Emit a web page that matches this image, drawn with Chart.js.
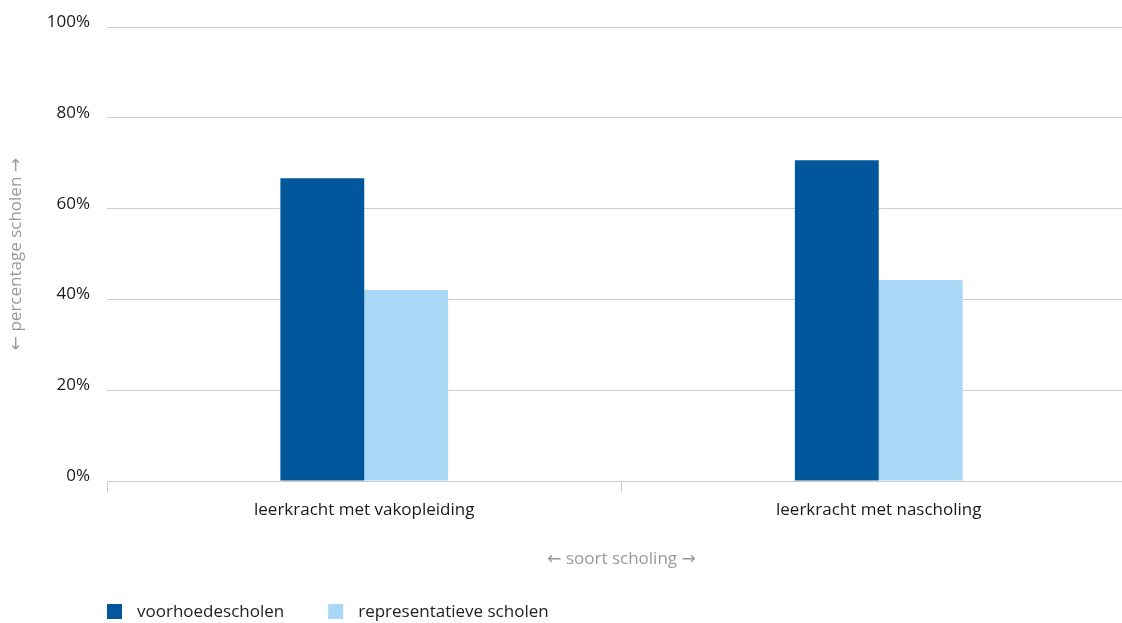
<!DOCTYPE html>
<html>
<head>
<meta charset="utf-8">
<script src="https://cdn.jsdelivr.net/npm/chart.js@4.4.1/dist/chart.umd.min.js"></script>
<style>
  html, body { margin: 0; padding: 0; background: #fff; overflow: hidden; }
  #wrap { width: 1122px; height: 623px; position: relative; overflow: hidden; }
  #c { position: absolute; left: 0; top: 0; }
</style>
</head>
<body>
<div id="wrap"><canvas id="c" width="1136" height="623"></canvas></div>
<script>
const categories = ['leerkracht met vakopleiding', 'leerkracht met nascholing'];
const seriesNames = ['voorhoedescholen', 'representatieve scholen'];
const voorhoedescholen = [66.7, 70.7];
const representatieveScholen = [42.1, 44.3];
const yTicks = [0, 20, 40, 60, 80, 100];
const xTitle = '\u2190 soort scholing \u2192';
const yTitle = '\u2190 percentage scholen \u2192';

const FONT = "'Open Sans', 'DejaVu Sans', sans-serif";
const colors = ['#01579B', '#A8D8F5'];

const customLegend = {
  id: 'customLegend',
  afterDraw(chart) {
    const ctx = chart.ctx;
    ctx.save();
    ctx.font = '17px ' + FONT;
    ctx.textBaseline = 'middle';
    ctx.textAlign = 'left';
    let x = chart.chartArea.left;
    const y = 604;
    chart.data.datasets.forEach((ds) => {
      ctx.fillStyle = ds.backgroundColor;
      ctx.fillRect(x, y, 15, 15);
      ctx.fillStyle = '#222222';
      ctx.fillText(ds.label, x + 30, y + 8);
      x += 30 + ctx.measureText(ds.label).width + 44;
    });
    ctx.restore();
  }
};

new Chart(document.getElementById('c'), {
  type: 'bar',
  data: {
    labels: categories,
    datasets: [
      { label: seriesNames[0], data: voorhoedescholen, backgroundColor: colors[0] },
      { label: seriesNames[1], data: representatieveScholen, backgroundColor: colors[1] }
    ]
  },
  options: {
    responsive: false,
    animation: false,
    devicePixelRatio: 1,
    layout: { padding: { top: 27, right: 0, bottom: 28, left: 0 } },
    datasets: { bar: { barPercentage: 1.0, categoryPercentage: 0.326 } },
    plugins: {
      legend: { display: false },
      tooltip: { enabled: false }
    },
    scales: {
      x: {
        offset: true,
        grid: {
          display: true,
          offset: true,
          drawOnChartArea: false,
          drawTicks: true,
          tickLength: 11,
          color: '#cccccc',
          lineWidth: 1
        },
        border: { display: true, color: '#cccccc', width: 1 },
        ticks: {
          color: '#1a1a1a',
          font: { family: FONT, size: 17 },
          padding: 8,
          maxRotation: 0
        },
        title: {
          display: true,
          text: xTitle,
          color: '#999999',
          font: { family: FONT, size: 17 },
          padding: { top: 10, bottom: 26 }
        },
        afterFit(scale) { scale.height = 114; }
      },
      y: {
        min: 0,
        max: 100,
        afterBuildTicks(scale) { scale.ticks = yTicks.map(v => ({ value: v })); },
        grid: {
          color: '#cccccc',
          lineWidth: 1,
          drawTicks: false
        },
        border: { display: false },
        ticks: {
          color: '#1a1a1a',
          font: { family: FONT, size: 17 },
          padding: 17,
          labelOffset: -5,
          callback: (v) => v + '%'
        },
        title: {
          display: true,
          text: yTitle,
          color: '#999999',
          font: { family: FONT, size: 17 },
          padding: { top: 6, bottom: 0 }
        },
        afterFit(scale) { scale.width = 107; }
      }
    }
  },
  plugins: [customLegend]
});
</script>
</body>
</html>
